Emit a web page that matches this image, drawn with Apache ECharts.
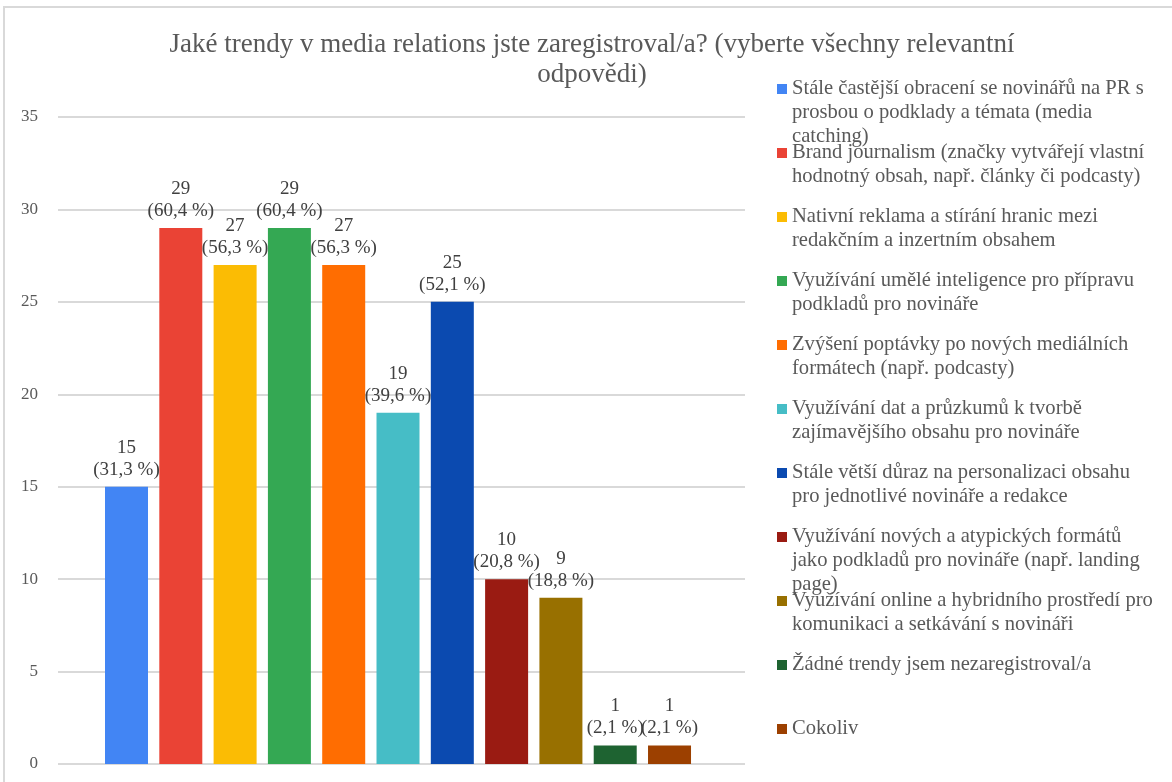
<!DOCTYPE html>
<html>
<head>
<meta charset="utf-8">
<script src="https://cdn.jsdelivr.net/npm/echarts@6/dist/echarts.min.js"></script>
<style>
html,body{margin:0;padding:0;background:#fff;}
#chart{width:1172px;height:782px;}
</style>
</head>
<body>
<div id="chart"></div>
<script>
// ---- data ----
const titleText = 'Jaké trendy v media relations jste zaregistroval/a? (vyberte všechny relevantní\nodpovědi)';
const categories = [
  'Stále častější obracení se novinářů na PR s\nprosbou o podklady a témata (media\ncatching)',
  'Brand journalism (značky vytvářejí vlastní\nhodnotný obsah, např. články či podcasty)',
  'Nativní reklama a stírání hranic mezi\nredakčním a inzertním obsahem',
  'Využívání umělé inteligence pro přípravu\npodkladů pro novináře',
  'Zvýšení poptávky po nových mediálních\nformátech (např. podcasty)',
  'Využívání dat a průzkumů k tvorbě\nzajímavějšího obsahu pro novináře',
  'Stále větší důraz na personalizaci obsahu\npro jednotlivé novináře a redakce',
  'Využívání nových a atypických formátů\njako podkladů pro novináře (např. landing\npage)',
  'Využívání online a hybridního prostředí pro\nkomunikaci a setkávání s novináři',
  'Žádné trendy jsem nezaregistroval/a',
  'Cokoliv'
];
const values = [15, 29, 27, 29, 27, 19, 25, 10, 9, 1, 1];
const percents = ['31,3 %', '60,4 %', '56,3 %', '60,4 %', '56,3 %', '39,6 %', '52,1 %', '20,8 %', '18,8 %', '2,1 %', '2,1 %'];
const colors = ['#4285F4', '#EA4335', '#FBBC04', '#34A853', '#FF6D01', '#46BDC6', '#0B4AB0', '#9A1B12', '#987000', '#1E6331', '#9C4000'];
const yTicks = {min: 0, max: 35, interval: 5};

// ---- chart ----
const chart = echarts.init(document.getElementById('chart'), null, {renderer: 'canvas'});
const FONT = '"Liberation Serif", "Times New Roman", serif';
const LH = 24;

function padLegend(name) {
  const lines = name.split('\n');
  const out = ['', ''].concat(lines);
  while (out.length < 5) out.push('');
  return out.join('\n');
}

const legends = categories.map((name, i) => ({
  show: true,
  orient: 'vertical',
  left: 777,
  top: 29 + 64 * i,
  padding: 0,
  itemWidth: 10,
  itemHeight: 10,
  icon: 'rect',
  selectedMode: false,
  data: [name],
  formatter: padLegend,
  textStyle: {fontFamily: FONT, fontSize: 20.6, color: '#595959', lineHeight: LH}
}));

const series = categories.map((name, i) => ({
  name: name,
  type: 'bar',
  barWidth: 43,
  barGap: '-100%',
  itemStyle: {color: colors[i]},
  data: [[i, values[i]]],
  label: {
    show: true,
    position: 'top',
    distance: 6,
    fontFamily: FONT,
    fontSize: 19,
    lineHeight: 22,
    color: '#404040',
    formatter: () => values[i] + '\n(' + percents[i] + ')'
  }
}));

chart.setOption({
  backgroundColor: '#ffffff',
  animation: false,
  title: {
    text: titleText,
    left: 592,
    top: 30,
    textAlign: 'center',
    padding: 0,
    textStyle: {fontFamily: FONT, fontSize: 27, fontWeight: 'normal', color: '#595959', lineHeight: 30, align: 'center'}
  },
  graphic: [{
    type: 'rect',
    shape: {x: 4, y: 7, width: 1300, height: 900},
    style: {fill: 'none', stroke: '#d9d9d9', lineWidth: 2},
    silent: true
  }],
  legend: legends,
  grid: {left: 58, right: 427, top: 117, bottom: 18, containLabel: false},
  xAxis: {
    type: 'value',
    min: -1.2615,
    max: 11.39,
    show: false
  },
  yAxis: {
    type: 'value',
    min: yTicks.min,
    max: yTicks.max,
    interval: yTicks.interval,
    axisLine: {show: false},
    axisTick: {show: false},
    axisLabel: {fontFamily: FONT, fontSize: 17, color: '#595959', margin: 20},
    splitLine: {lineStyle: {color: '#d9d9d9', width: 2}}
  },
  series: series
});
</script>
</body>
</html>
